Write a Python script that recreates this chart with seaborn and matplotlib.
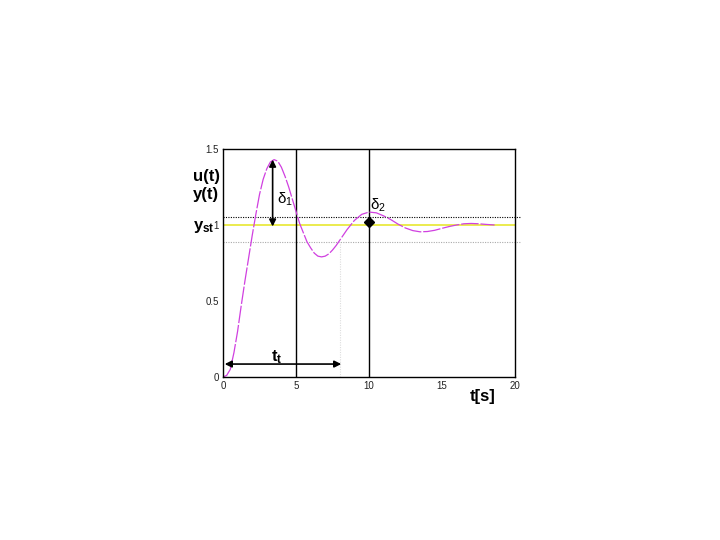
import numpy as np
import matplotlib
matplotlib.use('Agg')
import matplotlib.pyplot as plt
import seaborn as sns
import pandas as pd

# step response
t_vals = [0.0, 0.25, 0.5, 0.75, 1.0, 1.25, 1.5, 1.75, 2.0, 2.25, 2.5, 2.75, 3.0, 3.25, 3.5,
          3.75, 4.0, 4.25, 4.5, 4.75, 5.0, 5.25, 5.5, 5.75, 6.0, 6.25, 6.5, 6.75, 7.0,
          7.25, 7.5, 7.75, 8.0, 8.5, 9.0, 9.5, 10.0, 10.5, 11.0, 11.5, 12.0, 12.5,
          13.0, 13.5, 14.0, 14.5, 15.0, 15.5, 16.0, 16.5, 17.0, 17.5, 18.0, 18.6]
y_vals = [0.0, 0.01, 0.05, 0.16, 0.30, 0.47, 0.63, 0.78, 0.93, 1.07, 1.20, 1.30, 1.37, 1.415, 1.43,
          1.42, 1.38, 1.32, 1.25, 1.17, 1.09, 1.01, 0.95, 0.89, 0.85, 0.815, 0.795, 0.79, 0.795,
          0.81, 0.835, 0.865, 0.90, 0.97, 1.03, 1.07, 1.085, 1.08, 1.06, 1.035, 1.005, 0.98,
          0.963, 0.955, 0.957, 0.965, 0.978, 0.99, 1.0, 1.008, 1.01, 1.008, 1.004, 1.0]

y_steady = 1.0
band_hi = 1.05
band_lo = 0.89
t_settle = 8.0
t_peak = 3.4
y_peak = 1.43
t_second = 10.0
y_second = 1.02
tt_level = 0.085

x_ticks = [0, 5, 10, 15, 20]
y_ticks = [0, 0.5, 1, 1.5]
y_tick_labels = ['0', '0.5', '1', '1.5']

df = pd.DataFrame({'t': t_vals, 'y': y_vals})

sns.set_style('white')
plt.rcParams['font.family'] = ['Liberation Sans', 'DejaVu Sans']
plt.rcParams['text.color'] = 'black'
plt.rcParams['mathtext.fontset'] = 'custom'
plt.rcParams['mathtext.rm'] = 'Liberation Sans'
plt.rcParams['mathtext.it'] = 'Liberation Sans'
plt.rcParams['mathtext.bf'] = 'Liberation Sans:bold'

fig = plt.figure(figsize=(7.2, 5.4), dpi=100)
ax = fig.add_axes([0.3097, 0.3019, 0.4056, 0.4222])

ax.axhline(band_hi, xmin=0, xmax=1.02, color='black', lw=0.8, ls=(0, (1, 1.2)), clip_on=False)
ax.axhline(band_lo, xmin=0, xmax=1.02, color='#aaaaaa', lw=0.8, ls=(0, (1, 1.2)), clip_on=False)
ax.axhline(y_steady, color='#e8e830', lw=1.2)
ax.axvline(5, color='black', lw=1)
ax.axvline(10, color='black', lw=1)
ax.plot([t_settle, t_settle], [0, band_lo], color='#dddddd', lw=0.8, ls=(0, (1, 1.2)))

sns.lineplot(data=df, x='t', y='y', ax=ax, color='#d040e0', lw=0.9, dashes=False)
ax.lines[-1].set_linestyle((0, (14, 1.5)))

ax.set_xlim(0, 20)
ax.set_ylim(0, 1.5)
ax.set_xticks(x_ticks)
ax.set_yticks(y_ticks)
ax.set_yticklabels(y_tick_labels)
ax.tick_params(length=0, labelsize=7, colors='#222222', pad=3)
ax.set_xlabel('')
ax.set_ylabel('')
for s in ax.spines.values():
    s.set_color('black')
    s.set_linewidth(1)

arrow = dict(arrowstyle='<|-|>', color='black', lw=1.2, mutation_scale=10, shrinkA=0, shrinkB=0)
ax.annotate('', xy=(t_peak, y_peak), xytext=(t_peak, y_steady - 0.01), arrowprops=arrow)
ax.annotate('', xy=(0.12, tt_level), xytext=(t_settle + 0.1, tt_level), arrowprops=arrow)
ax.plot([t_second], [y_second], marker='D', ms=5, color='black')

ax.text(3.7, 1.14, r'$\mathrm{\delta_1}$', fontsize=11)
ax.text(10.1, 1.1, r'$\mathrm{\delta_2}$', fontsize=11)
ax.text(3.3, 0.1, r'$\mathbf{t_t}$', fontsize=12)

ax.text(-2.05, 1.29, 'u(t)', fontsize=12, fontweight='bold')
ax.text(-2.05, 1.17, 'y(t)', fontsize=12, fontweight='bold')
ax.text(-2.05, 0.97, r'$\mathbf{y_{st}}$', fontsize=12)
ax.text(16.9, -0.16, 't[s]', fontsize=12, fontweight='bold')

fig.savefig('out.png', dpi=100, facecolor='white')
